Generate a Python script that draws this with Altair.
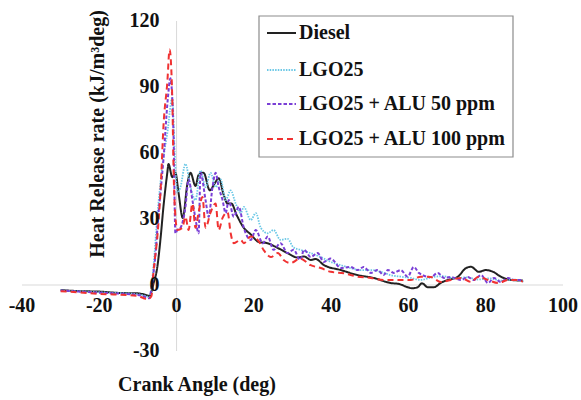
import altair as alt
import pandas as pd

series_names = ["Diesel", "LGO25", "LGO25 + ALU 50 ppm", "LGO25 + ALU 100 ppm"]
series_colors = ["#222222", "#6cc8e6", "#7a3fd6", "#f03232"]
series_dash = [[1, 0], [1.5, 1.2], [3.5, 2], [6, 4]]
series_width = [2.0, 1.8, 2.0, 2.0]

diesel_x = [-30, -25, -20, -15, -10, -8, -7, -6, -5, -4.1, -3.4, -2.4, -2.1, -1.1, -0.3, 0.5, 1.6, 2.8, 3.6, 4.9, 5.7, 7, 8.6, 9.8, 10.9, 12.2, 13.2, 14.2, 15.5, 17.4, 19.2, 21.3, 23.5, 26, 28.7, 31.3, 33, 34.7, 36, 38.1, 42.5, 46.9, 51, 55.4, 57.5, 59.8, 61, 62.4, 63.5, 65, 66.6, 68.4, 70.2, 72.8, 74.9, 76.2, 78.2, 80, 81.9, 83.9, 86.5, 89.6]
diesel_y = [-2.3, -2.8, -3.0, -3.6, -3.8, -4.5, -5, 0.5, 8, 22, 35.5, 51, 55, 49, 51, 42, 30.5, 46, 51, 45, 50, 51, 43, 46, 48.5, 41, 37, 37, 32, 26, 23, 19.5, 19, 17, 14.5, 12.5, 13, 11.4, 11.8, 9.1, 6.8, 4.5, 3.2, 0.9, 0.5, -1, -1.5, -1, 0.8, -1, -1, 1, 2.3, 3.8, 7.7, 8.3, 6, 6.8, 6, 3.8, 2.3, 2.0]

lgo_x = [-30, -20, -10, -8, -7, -6, -5, -3.7, -2.4, -1.1, -0.5, 0.2, 1, 2.3, 3.6, 4.9, 6.2, 7.5, 8.8, 10.1, 11.4, 12.7, 14, 15.3, 16.6, 17.4, 19.2, 20.5, 21.8, 23.6, 25.1, 26.9, 28.7, 30.3, 32, 34.7, 37.3, 39.9, 42.5, 45, 47.7, 50.3, 52.8, 55.4, 58, 60.6, 63.2, 66, 69, 72, 75, 78, 81, 84, 87, 90]
lgo_y = [-2.5, -3.3, -4.2, -5, -5.5, 8, 31, 54, 69, 85, 61, 42, 44.5, 55, 44.5, 38.6, 52, 44.5, 51, 44.5, 48, 38.6, 43, 37, 32.7, 35.5, 29.5, 32.7, 26, 23.5, 25, 20.5, 21, 17, 16, 14.5, 12.7, 10.5, 9, 7.7, 6.8, 6.8, 6, 4.5, 3.8, 3.2, 2.3, 3.5, 4, 3, 3.5, 2.5, 3, 2, 2.5, 1.5]

alu50_x = [-30, -20, -10, -8, -7, -6.5, -5.4, -4.7, -4.1, -3.4, -2.3, -1.6, -0.8, -0.3, 0.2, 1, 2.3, 3.1, 4.1, 4.9, 5.7, 6.2, 7.5, 8.3, 9.3, 10.1, 10.9, 11.9, 12.7, 13.5, 14.8, 16.1, 17.4, 19.2, 20.5, 22.3, 23.6, 25.1, 26.9, 28.7, 30.3, 32, 33, 34.7, 36.5, 38.1, 39.9, 42.5, 45, 46.9, 48.4, 50.3, 52, 53.6, 54.7, 56.2, 58, 59.8, 61.4, 62.7, 65.8, 67.6, 69.2, 71, 73.6, 75.4, 76.9, 78.8, 80.6, 82.1, 83.9, 85.8, 87.3, 89.6]
alu50_y = [-2.5, -3.5, -4.5, -5.5, -6, -1, 15, 32, 43, 57, 84, 94, 69, 23.5, 25, 26, 35.5, 48, 38.6, 30, 23.5, 51, 38.6, 31, 44.5, 51, 44.5, 38.6, 32.7, 38.6, 31, 35.5, 26, 20.5, 25, 19, 22, 16, 19, 14.5, 16, 11.4, 16, 12.7, 14.5, 10.5, 12, 7.7, 8.2, 6.8, 8.2, 5.5, 6.8, 4.5, 6.8, 5.5, 6.8, 3.8, 8.2, 5.5, 3.6, 5.5, 3.2, 3.6, 2.3, 3.6, 2.3, 4.5, 0.9, 3.2, 1.4, 3.2, 2.3, 2.3]

alu100_x = [-30, -20, -10, -8.5, -7.5, -6.5, -6, -4.9, -4.1, -3.4, -2.4, -1.8, -1.1, -0.8, -0.3, 0.2, 1.5, 2.3, 3.1, 4.1, 4.9, 5.7, 6.7, 7.5, 8.8, 10.1, 10.9, 11.9, 13.2, 14, 14.8, 16.6, 17.4, 19.2, 21, 22.5, 24.4, 26.2, 27.7, 29.5, 32, 34.7, 37.3, 39.9, 43.3, 46.9, 50.3, 53.6, 57.3, 59.8, 60.6, 63.2, 65.8, 68.4, 71, 73.6, 76.2, 78, 80.6, 83.2, 85.8, 88.3, 89.6]
alu100_y = [-2.8, -4, -5, -6, -6.5, -5, 5.5, 23.5, 44.5, 72, 92, 107, 84, 54, 31, 25, 26, 31, 25, 37, 26, 33, 40, 26, 33, 37, 25, 30.5, 33, 23.5, 19, 20.5, 19, 22, 20.5, 16, 12.7, 14.5, 11.4, 10, 12, 9, 7.7, 6, 5.3, 3.8, 3.2, 2.3, 2.3, 2.3, 2.3, 3.8, 3.6, 1.4, 2.3, 3.2, 1.4, 3.6, 2.3, 0.9, 2.3, 2.3, 1.4]

x_ticks = [-40, -20, 0, 20, 40, 60, 80, 100]
y_ticks = [-30, 0, 30, 60, 90, 120]
x_title = "Crank Angle (deg)"
y_title = "Heat Release rate (kJ/m\u00b3deg)"

FONT = "Liberation Serif"
xs = alt.Scale(domain=[-40, 100], range=[22, 563], nice=False, zero=False)
ys = alt.Scale(domain=[-30, 120], range=[351, 21], nice=False, zero=False)

rows = []
for name, xv, yv in zip(series_names,
                        [diesel_x, lgo_x, alu50_x, alu100_x],
                        [diesel_y, lgo_y, alu50_y, alu100_y]):
    for i, (a, b) in enumerate(zip(xv, yv)):
        rows.append({"series": name, "x": a, "y": b, "i": i})
df = pd.DataFrame(rows)

axis_df = pd.DataFrame({"x": [0, -40], "x2": [0, 100], "y": [-30, 0], "y2": [120, 0]})
axes = alt.Chart(axis_df).mark_rule(color="#d9d9d9", strokeWidth=1).encode(
    x=alt.X("x:Q", scale=xs, axis=None), x2="x2:Q",
    y=alt.Y("y:Q", scale=ys, axis=None), y2="y2:Q")

xt = pd.DataFrame({"v": x_ticks, "z": [0] * len(x_ticks), "t": [str(v) for v in x_ticks]})
yt = pd.DataFrame({"v": y_ticks, "z": [0] * len(y_ticks), "t": [str(v) for v in y_ticks]})

xlab = alt.Chart(xt).mark_text(font=FONT, fontSize=20, fontWeight="bold", baseline="middle",
                               align="center", dy=21, color="#111").encode(
    x=alt.X("v:Q", scale=xs, axis=None), y=alt.Y("z:Q", scale=ys, axis=None), text="t:N")
ylab = alt.Chart(yt).mark_text(font=FONT, fontSize=20, fontWeight="bold", baseline="middle",
                               align="right", dx=-17, color="#111").encode(
    x=alt.X("z:Q", scale=xs, axis=None), y=alt.Y("v:Q", scale=ys, axis=None), text="t:N")

layers = [axes]
for name, col, dash, w in zip(series_names, series_colors, series_dash, series_width):
    layers.append(
        alt.Chart(df[df.series == name]).mark_line(color=col, strokeDash=dash, strokeWidth=w,
                                                   interpolate="monotone").encode(
            x=alt.X("x:Q", scale=xs, axis=None),
            y=alt.Y("y:Q", scale=ys, axis=None),
            order="i:Q"))
layers += [xlab, ylab]

title_df = pd.DataFrame({"t": [x_title]})
layers.append(alt.Chart(title_df).mark_text(font=FONT, fontSize=20, fontWeight="bold",
                                            align="center", baseline="middle", color="#111").encode(
    x=alt.value(197), y=alt.value(385), text="t:N"))
ytitle_df = pd.DataFrame({"t": [y_title]})
layers.append(alt.Chart(ytitle_df).mark_text(font=FONT, fontSize=20, fontWeight="bold", angle=270,
                                             align="center", baseline="middle", color="#111").encode(
    x=alt.value(98), y=alt.value(134), text="t:N"))

# legend
leg_df = pd.DataFrame({"a": [0]})
layers.append(alt.Chart(leg_df).mark_rect(fill="white", stroke="#8c8c8c", strokeWidth=1.2).encode(
    x=alt.value(259), x2=alt.value(513), y=alt.value(16), y2=alt.value(157)))
leg_y = [33, 70, 104, 139]
for name, col, dash, w, ly in zip(series_names, series_colors, series_dash, series_width, leg_y):
    layers.append(alt.Chart(leg_df).mark_rule(color=col, strokeDash=dash, strokeWidth=w).encode(
        x=alt.value(267), x2=alt.value(296), y=alt.value(ly)))
    layers.append(alt.Chart(pd.DataFrame({"t": [name]})).mark_text(
        font=FONT, fontSize=20, fontWeight="bold", align="left", baseline="middle", color="#111").encode(
        x=alt.value(299), y=alt.value(ly), text="t:N"))

chart = alt.layer(*layers).properties(
    width=581, height=400, autosize=alt.AutoSizeParams(type="none"), padding=0
).configure_view(stroke=None)

chart.save("out.html", embed_options={"renderer": "svg", "actions": False})
